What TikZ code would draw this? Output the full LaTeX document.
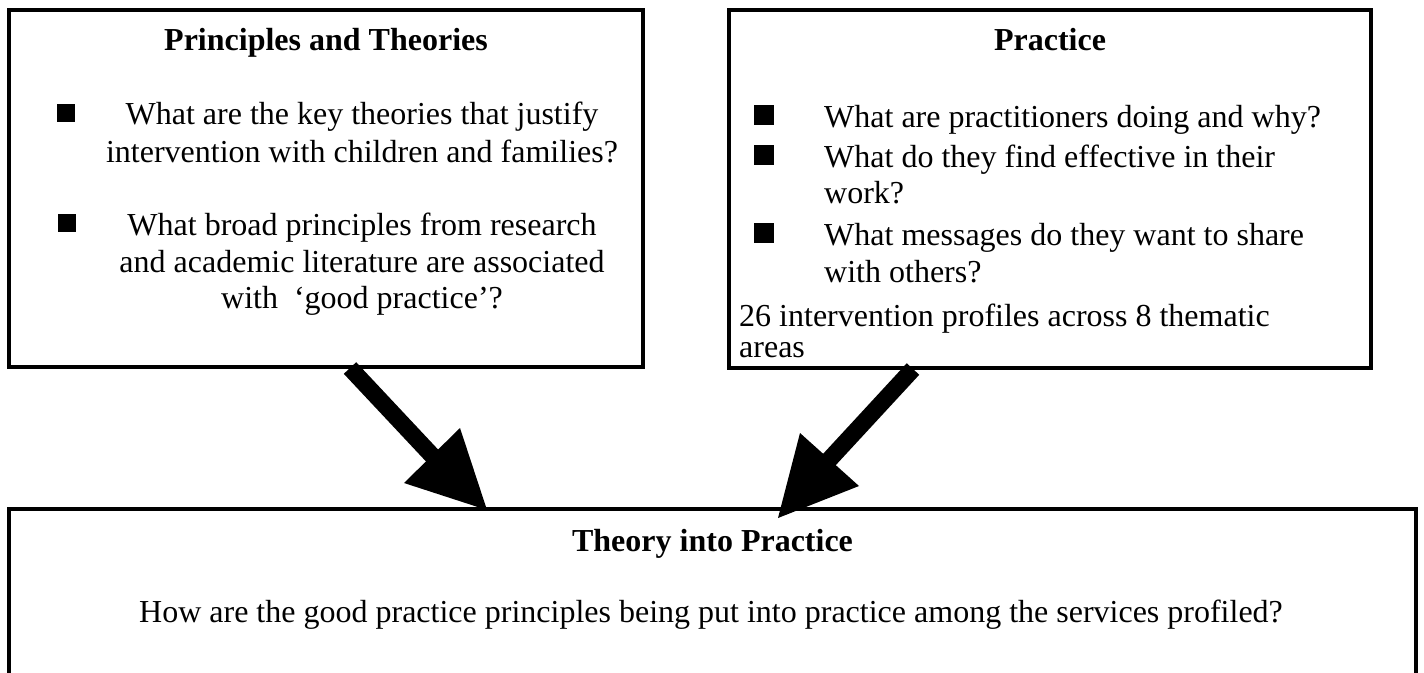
\documentclass[tikz,border=0pt]{standalone}
\usepackage{fontspec}
\setmainfont{Liberation Serif}
\begin{document}
\begin{tikzpicture}[x=1pt,y=-1pt,
  box/.style={draw=black,line width=4pt,rectangle,inner sep=0pt},
  txt/.style={inner sep=0pt,font=\fontsize{32}{38}\selectfont},
  ttl/.style={inner sep=0pt,font=\fontsize{32}{38}\selectfont\bfseries},
  sq/.style={fill=black,rectangle,inner sep=0pt,minimum width=#1,minimum height=#1},
  shaft/.style={line width=17pt,line cap=butt},
  head/.style={fill=black}]
\useasboundingbox (0,0) rectangle (1424,672);
\clip (0,0) rectangle (1424,672);
\fill[white] (0,0) rectangle (1424,672);

% boxes
\node[box,minimum width=634pt,minimum height=357pt] (pt) at (326,188.5) {};
\node[box,minimum width=642pt,minimum height=358pt] (pr) at (1050,189) {};
\node[box,minimum width=1407pt,minimum height=191pt] (tp) at (712.5,604.5) {};

% Principles and Theories
\node[ttl,anchor=base] (ptT) at (326,50) {Principles and Theories};
\node[sq=18pt] (b1) at (66,113) {};
\node[txt,anchor=base] (l1) at (362,124) {What are the key theories that justify};
\node[txt,anchor=base] (l2) at (362,162) {intervention with children and families?};
\node[sq=18pt] (b2) at (67,223) {};
\node[txt,anchor=base] (l3) at (362,235) {What broad principles from research};
\node[txt,anchor=base] (l4) at (362,272) {and academic literature are associated};
\node[txt,anchor=base] (l5) at (362,308) {with\ \ ‘good practice’?};

% Practice
\node[ttl,anchor=base] (prT) at (1050,50) {Practice};
\node[sq=20pt] (c1) at (764,114.5) {};
\node[txt,anchor=base west] (m1) at (824,127) {What are practitioners doing and why?};
\node[sq=20pt] (c2) at (764,154.5) {};
\node[txt,anchor=base west] (m2) at (824,167) {What do they find effective in their};
\node[txt,anchor=base west] (m3) at (824,203) {work?};
\node[sq=20pt] (c3) at (764,233) {};
\node[txt,anchor=base west] (m4) at (824,245) {What messages do they want to share};
\node[txt,anchor=base west] (m5) at (824,282) {with others?};
\node[txt,anchor=base west] (m6) at (739,326) {26 intervention profiles across 8 thematic};
\node[txt,anchor=base west] (m7) at (739,357) {areas};

% Theory into Practice
\node[ttl,anchor=base] (tpT) at (712.5,551) {Theory into Practice};
\node[txt,anchor=base] (tpL) at (711,622) {How are the good practice principles being put into practice among the services profiled?};

% arrows (block arrows from the upper boxes to the lower box)
\coordinate (a1t) at (350,368);
\coordinate (a1m) at (433,456.5);
\coordinate (a1p) at (487,510);
\coordinate (a1l) at (460,428);
\coordinate (a1r) at (404,483);
\draw[shaft] (a1t) -- (a1m);
\fill[head] (a1l) -- (a1p) -- (a1r) -- cycle;

\coordinate (a2t) at (913,369);
\coordinate (a2m) at (828.5,460.5);
\coordinate (a2p) at (778,518);
\coordinate (a2l) at (800,433);
\coordinate (a2r) at (859,486);
\draw[shaft] (a2t) -- (a2m);
\fill[head] (a2l) -- (a2p) -- (a2r) -- cycle;
\end{tikzpicture}
\end{document}
